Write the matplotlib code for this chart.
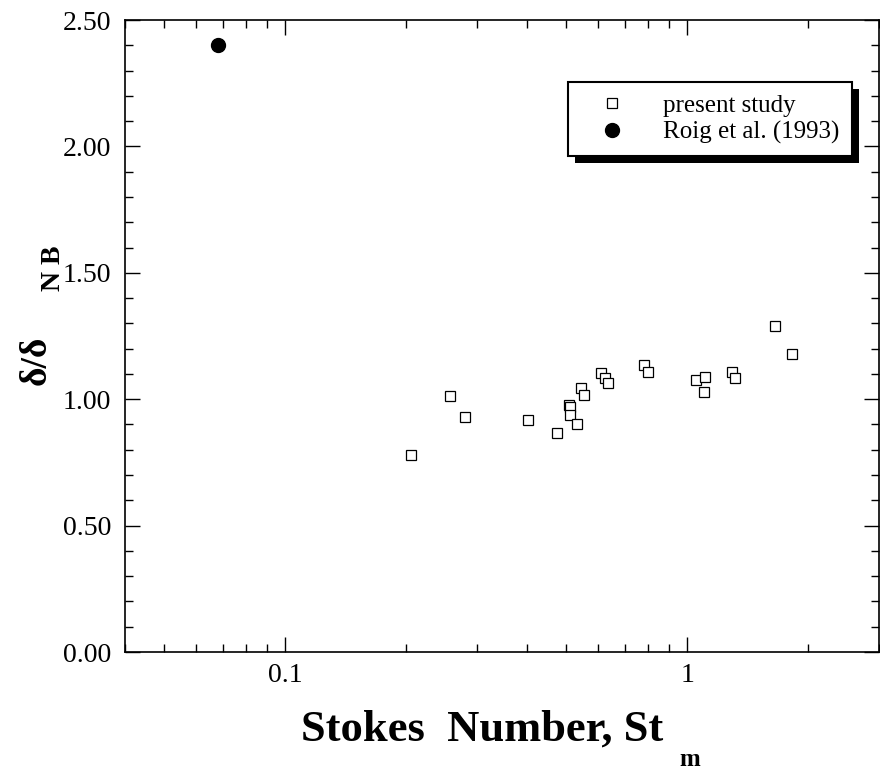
# libraries
import matplotlib
matplotlib.use('Agg')
import matplotlib.pyplot as plt
import matplotlib.patheffects as pe
from matplotlib.ticker import LogLocator, MultipleLocator, FixedLocator, FixedFormatter, NullFormatter

plt.rcParams['font.family'] = ['Liberation Serif', 'DejaVu Serif']

# present study: Stokes number and delta/delta_NB
st_present = [0.206, 0.257, 0.280, 0.402, 0.475, 0.509, 0.512, 0.510, 0.533,
              0.545, 0.554, 0.611, 0.625, 0.636, 0.782, 0.800, 1.053, 1.109,
              1.100, 1.294, 1.316, 1.655, 1.825]
d_present = [0.780, 1.012, 0.929, 0.918, 0.865, 0.976, 0.968, 0.937, 0.900,
             1.044, 1.017, 1.103, 1.083, 1.063, 1.135, 1.107, 1.075, 1.087,
             1.028, 1.107, 1.083, 1.290, 1.179]

# Roig et al. (1993)
st_roig = [0.068]
d_roig = [2.40]

fig = plt.figure(figsize=(8.8, 7.75), dpi=100)
ax = fig.add_axes([125/880, 1-652/775, 1-125/880-0.001, (652-20)/775])

ax.plot(st_present, d_present, linestyle='none', marker='s', markersize=7.5,
        markerfacecolor='white', markeredgecolor='black', markeredgewidth=0.9,
        label='present study')
ax.plot(st_roig, d_roig, linestyle='none', marker='o', markersize=10,
        color='black', label='Roig et al. (1993)')

ax.set_xscale('log')
ax.set_xlim(0.04, 3.0)
ax.set_ylim(0, 2.5)

ax.xaxis.set_major_locator(FixedLocator([0.1, 1]))
ax.xaxis.set_major_formatter(FixedFormatter(['0.1', '1']))
ax.xaxis.set_minor_locator(LogLocator(base=10, subs=range(2, 10)))
ax.xaxis.set_minor_formatter(NullFormatter())
ax.yaxis.set_major_locator(MultipleLocator(0.5))
ax.yaxis.set_minor_locator(MultipleLocator(0.1))
ax.yaxis.set_major_formatter(plt.FuncFormatter(lambda v, p: '%.2f' % v))

ax.tick_params(which='both', direction='in', top=True, right=True,
               labelsize=20, width=1)
ax.tick_params(axis='x', pad=8)
ax.tick_params(axis='y', pad=10)
ax.tick_params(which='major', length=11)
ax.tick_params(which='minor', length=6)
for s in ax.spines.values():
    s.set_linewidth(1.2)

# legend with thick shadow box
leg = ax.legend(loc='upper right', bbox_to_anchor=(0.964, 0.902), borderaxespad=0,
                fontsize=18, frameon=True, fancybox=False, edgecolor='black',
                framealpha=1, handlelength=2.5, handletextpad=0.8,
                borderpad=0.5, labelspacing=0.15)
frame = leg.get_frame()
frame.set_linewidth(1.5)
frame.set_path_effects([pe.SimplePatchShadow(offset=(5, -5), shadow_rgbFace='black', alpha=1),
                        pe.Normal()])

# axis labels
fig.text(0.5 * (296 + 668) / 880, 1 - 730/775, 'Stokes  Number, St',
         ha='center', va='center', fontsize=32, fontweight='bold')
fig.text(690/880, 1 - 760/775, 'm', ha='center', va='center',
         fontsize=18, fontweight='bold')
fig.text(36/880, 1 - 360/775, 'δ/δ', rotation=90, ha='center', va='center',
         fontsize=27, fontweight='bold')
fig.text(53/880, 1 - 268/775, 'N B', rotation=90, ha='center', va='center',
         fontsize=20, fontweight='bold')

fig.savefig('out.png', dpi=100)
